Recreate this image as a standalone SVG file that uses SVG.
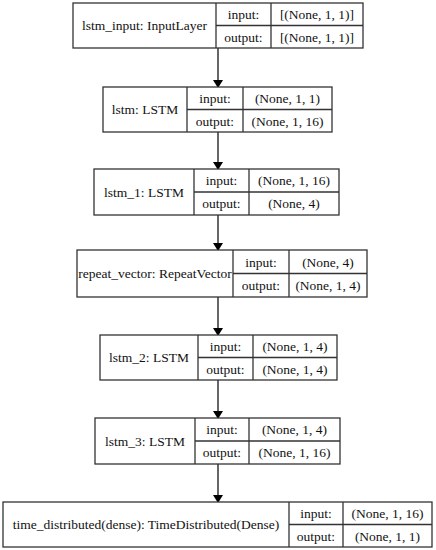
<svg xmlns="http://www.w3.org/2000/svg" width="436" height="550" viewBox="0 0 436 550">
<defs>
<marker id="ah" markerWidth="8" markerHeight="10" refX="7" refY="5" orient="auto" markerUnits="userSpaceOnUse">
<path d="M0,0 L8,5 L0,10 Z" fill="#000"/>
</marker>
<style>
.n rect { fill: #fff; stroke: #333; stroke-width: 1.3; }
.n line { fill: none; stroke: #333; stroke-width: 1.3; }
text { font-family: "Liberation Serif", "Times New Roman", serif; font-size: 13.5px; fill: #111; text-anchor: middle; dominant-baseline: central; }
.c { stroke: #000; stroke-width: 1.2; fill: none; }
</style>
</defs>
<rect width="436" height="550" style="fill:#fff;stroke:none"/>
<g id="connectors">
<line class="c" x1="218" y1="48" x2="218" y2="87" marker-end="url(#ah)"/>
<line class="c" x1="218" y1="132" x2="218" y2="169" marker-end="url(#ah)"/>
<line class="c" x1="218" y1="215" x2="218" y2="250" marker-end="url(#ah)"/>
<line class="c" x1="218" y1="297" x2="218" y2="335" marker-end="url(#ah)"/>
<line class="c" x1="218" y1="380" x2="218" y2="418" marker-end="url(#ah)"/>
<line class="c" x1="218" y1="464" x2="218" y2="502" marker-end="url(#ah)"/>
</g>
<g id="lstm_input" class="n">
<rect x="73" y="3" width="290" height="45"/>
<line x1="216" y1="3" x2="216" y2="48"/>
<line x1="271" y1="3" x2="271" y2="48"/>
<line x1="216" y1="25.5" x2="363" y2="25.5"/>
<text x="144.5" y="25.5">lstm_input: InputLayer</text>
<text x="243.5" y="14">input:</text>
<text x="243.5" y="37">output:</text>
<text x="317" y="14">[(None, 1, 1)]</text>
<text x="317" y="37">[(None, 1, 1)]</text>
</g>
<g id="lstm" class="n">
<rect x="103" y="87" width="229" height="45"/>
<line x1="187" y1="87" x2="187" y2="132"/>
<line x1="243" y1="87" x2="243" y2="132"/>
<line x1="187" y1="109.5" x2="332" y2="109.5"/>
<text x="145" y="109.5">lstm: LSTM</text>
<text x="215" y="98">input:</text>
<text x="215" y="121">output:</text>
<text x="287.5" y="98">(None, 1, 1)</text>
<text x="287.5" y="121">(None, 1, 16)</text>
</g>
<g id="lstm_1" class="n">
<rect x="94" y="169" width="245" height="46"/>
<line x1="194" y1="169" x2="194" y2="215"/>
<line x1="249" y1="169" x2="249" y2="215"/>
<line x1="194" y1="192" x2="339" y2="192"/>
<text x="144" y="192">lstm_1: LSTM</text>
<text x="221.5" y="180.5">input:</text>
<text x="221.5" y="203.5">output:</text>
<text x="294" y="180.5">(None, 1, 16)</text>
<text x="294" y="203.5">(None, 4)</text>
</g>
<g id="repeat_vector" class="n">
<rect x="77" y="250" width="290" height="47"/>
<line x1="233" y1="250" x2="233" y2="297"/>
<line x1="289" y1="250" x2="289" y2="297"/>
<line x1="233" y1="273.5" x2="367" y2="273.5"/>
<text x="155" y="273.5">repeat_vector: RepeatVector</text>
<text x="261" y="262">input:</text>
<text x="261" y="285">output:</text>
<text x="328" y="262">(None, 4)</text>
<text x="328" y="285">(None, 1, 4)</text>
</g>
<g id="lstm_2" class="n">
<rect x="100" y="335" width="237" height="45"/>
<line x1="198" y1="335" x2="198" y2="380"/>
<line x1="253" y1="335" x2="253" y2="380"/>
<line x1="198" y1="357.5" x2="337" y2="357.5"/>
<text x="149" y="357.5">lstm_2: LSTM</text>
<text x="225.5" y="346">input:</text>
<text x="225.5" y="369">output:</text>
<text x="295" y="346">(None, 1, 4)</text>
<text x="295" y="369">(None, 1, 4)</text>
</g>
<g id="lstm_3" class="n">
<rect x="95" y="418" width="245" height="46"/>
<line x1="195" y1="418" x2="195" y2="464"/>
<line x1="249" y1="418" x2="249" y2="464"/>
<line x1="195" y1="441" x2="340" y2="441"/>
<text x="145" y="441">lstm_3: LSTM</text>
<text x="222" y="429.5">input:</text>
<text x="222" y="452.5">output:</text>
<text x="294.5" y="429.5">(None, 1, 4)</text>
<text x="294.5" y="452.5">(None, 1, 16)</text>
</g>
<g id="time_distributed" class="n">
<rect x="3" y="502" width="429" height="45"/>
<line x1="289" y1="502" x2="289" y2="547"/>
<line x1="343" y1="502" x2="343" y2="547"/>
<line x1="289" y1="524.5" x2="432" y2="524.5"/>
<text x="146" y="524.5">time_distributed(dense): TimeDistributed(Dense)</text>
<text x="316" y="513">input:</text>
<text x="316" y="536">output:</text>
<text x="387.5" y="513">(None, 1, 16)</text>
<text x="387.5" y="536">(None, 1, 1)</text>
</g>
</svg>
